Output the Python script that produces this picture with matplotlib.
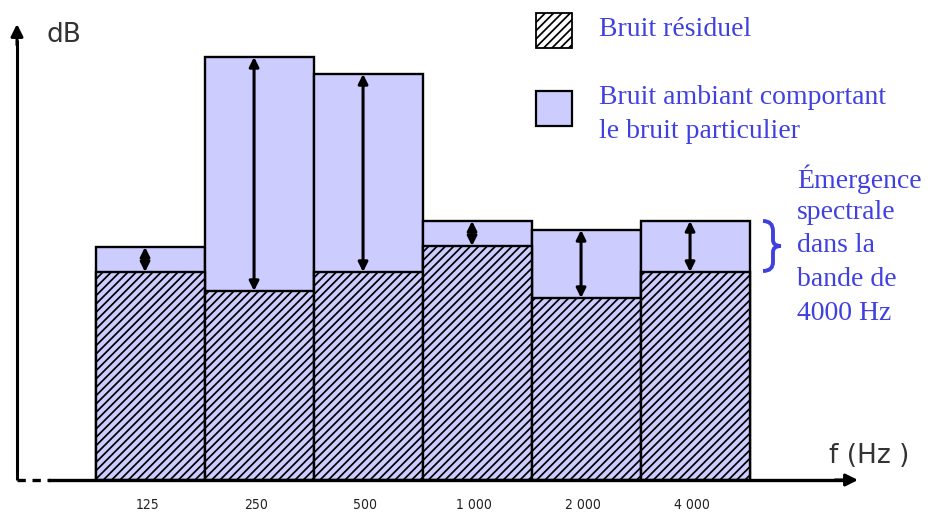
import matplotlib
matplotlib.use('Agg')
import matplotlib.pyplot as plt
from matplotlib.patches import Rectangle, PathPatch
from matplotlib.path import Path

# Octave bands and levels (arbitrary dB scale)
bands = ['125', '250', '500', '1 000', '2 000', '4 000']
residuel = [20.8, 18.9, 20.8, 23.4, 18.2, 20.8]
ambiant = [23.3, 42.3, 40.6, 25.9, 25.0, 25.9]

LAVANDE = '#ccccff'
BLEU = '#4040e0'
W, H = 931, 515

plt.rcParams['hatch.linewidth'] = 1.25

fig = plt.figure(figsize=(W / 100, H / 100), dpi=100)
ax = fig.add_axes([0, 0, 1, 1])
# 109 px per band, first band starts at x=96 px ; 10 px per dB, baseline at y=480 px
ax.set_xlim(-96 / 109, (W - 96) / 109)
ax.set_ylim(-3.5, 48.0)
ax.axis('off')


def px(x, y):
    # pixel position (from top-left) -> figure fraction
    return (x / W, 1 - y / H)


# bars
for i, (r, a) in enumerate(zip(residuel, ambiant)):
    ax.bar(i, a, width=1, align='edge', color=LAVANDE, edgecolor='black', lw=1.7, zorder=2)
    ax.bar(i, r, width=1, align='edge', color=LAVANDE, edgecolor='black', lw=1.7,
           hatch='////', zorder=3)
    ax.annotate('', xy=(i + 0.45, a), xytext=(i + 0.45, r),
                arrowprops=dict(arrowstyle='<|-|>', color='black', lw=2.2,
                                mutation_scale=14, shrinkA=0, shrinkB=0), zorder=4)
    ax.text(i + 0.47, -2.5, bands[i], ha='center', va='center', fontsize=10,
            family='DejaVu Sans', stretch='condensed', color='#222222')

# axes drawn as arrows
fig.add_artist(plt.Line2D([17 / W, 17 / W], [1 - 480 / H, 1 - 40 / H], color='black',
                          lw=2.2, solid_capstyle='butt'))
ax.annotate('', xy=px(17, 24), xytext=px(17, 45), xycoords='figure fraction',
            textcoords='figure fraction',
            arrowprops=dict(arrowstyle='-|>', color='black', lw=2.2, mutation_scale=18,
                            shrinkA=0, shrinkB=0))
fig.add_artist(plt.Line2D([17 / W, 50 / W], [1 - 480 / H, 1 - 480 / H], color='black',
                          lw=2.4, ls=(0, (2.5, 2.0)), zorder=5))
fig.add_artist(plt.Line2D([50 / W, 845 / W], [1 - 480 / H, 1 - 480 / H], color='black',
                          lw=2.4, zorder=5))
ax.annotate('', xy=px(858, 480), xytext=px(835, 480), xycoords='figure fraction',
            textcoords='figure fraction',
            arrowprops=dict(arrowstyle='-|>', color='black', lw=2.2, mutation_scale=18,
                            shrinkA=0, shrinkB=0))

fig.text(*px(46, 35), 'dB', fontsize=19, color='#333333', va='center', ha='left')
fig.text(*px(829, 456), 'f (Hz )', fontsize=19, color='#333333', va='center', ha='left')

# legend
fig.add_artist(Rectangle(px(536, 48), 36 / W, 35 / H, transform=fig.transFigure,
                         facecolor='white', edgecolor='black', lw=1.3, hatch='////'))
fig.add_artist(Rectangle(px(536, 126), 36 / W, 35 / H, transform=fig.transFigure,
                         facecolor=LAVANDE, edgecolor='black', lw=1.6))
serif = dict(family='Liberation Serif', color=BLEU, fontsize=20, ha='left', va='center')
fig.text(*px(599, 29), 'Bruit résiduel', **serif)
fig.text(*px(599, 97), 'Bruit ambiant comportant', **serif)
fig.text(*px(599, 131), 'le bruit particulier', **serif)

# brace + note
verts = [px(763, 221), px(773, 221), px(773, 231), px(773, 240),
         px(773, 246), px(781, 246), px(773, 246), px(773, 252),
         px(773, 262), px(773, 271), px(763, 271)]
codes = [Path.MOVETO, Path.CURVE3, Path.CURVE3, Path.LINETO,
         Path.CURVE3, Path.CURVE3, Path.CURVE3, Path.CURVE3,
         Path.LINETO, Path.CURVE3, Path.CURVE3]
fig.add_artist(PathPatch(Path(verts, codes), transform=fig.transFigure, fill=False,
                         edgecolor=BLEU, lw=2.8))
note = ['Émergence', 'spectrale', 'dans la', 'bande de', '4000 Hz']
for k, line in enumerate(note):
    fig.text(*px(797, 179 + 33.5 * k), line, **serif)

fig.savefig('out.png', dpi=100)
